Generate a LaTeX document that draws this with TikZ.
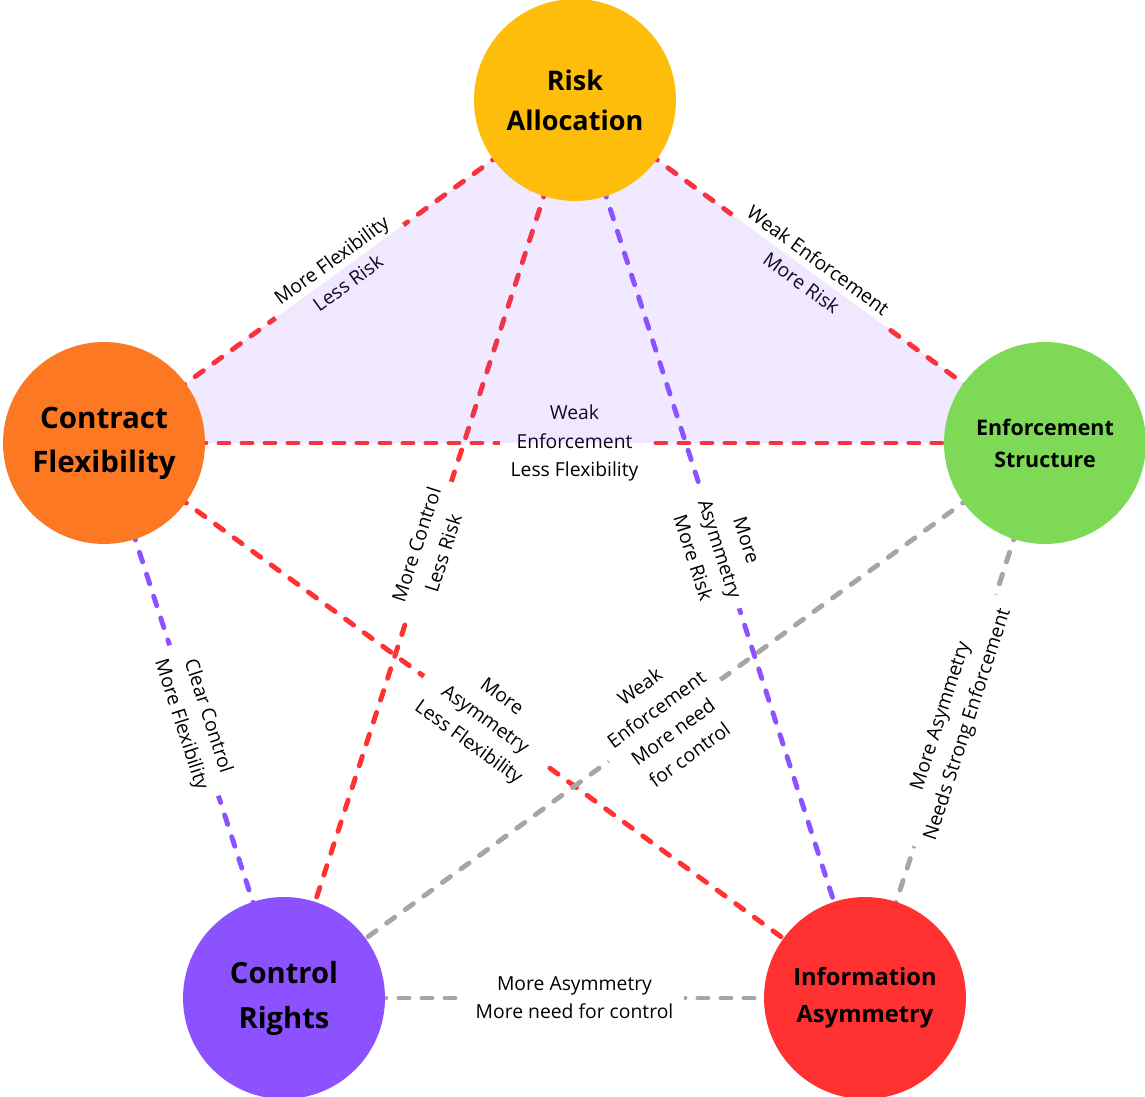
\documentclass[tikz,border=0pt]{standalone}
\usepackage{fontspec}
\setmainfont{Open Sans}
\usepackage{tikz}
\usetikzlibrary{backgrounds}
\definecolor{riskc}{RGB}{253,189,10}
\definecolor{flexc}{RGB}{253,120,35}
\definecolor{enfc}{RGB}{126,217,87}
\definecolor{ctrlc}{RGB}{140,82,255}
\definecolor{infoc}{RGB}{255,49,49}
\definecolor{linkgray}{RGB}{166,166,166}

\begin{document}
\begin{tikzpicture}[x=0.02cm,y=-0.02cm,
  factor/.style={circle,minimum size=4.04cm,inner sep=0pt,align=center},
  link/.style={line width=2.8pt,dash pattern=on 0.2cm off 0.26cm,line cap=round},
  redlink/.style={link,draw=infoc},
  purplelink/.style={link,draw=ctrlc},
  graylink/.style={link,draw=linkgray},
  lbl/.style={fill=white,align=center,inner xsep=0.22cm,inner ysep=0.06cm,
              font=\fontsize{11}{16}\selectfont,sloped}
]
\useasboundingbox (0,0) rectangle (1145,1097);
\node[factor,fill=riskc,font={\bfseries\fontsize{15.4}{22.8}\selectfont}] (risk) at (575,100) {Risk\\Allocation};
\node[factor,fill=flexc,font={\bfseries\fontsize{16.8}{25}\selectfont}] (flex) at (104,443) {Contract\\Flexibility};
\node[factor,fill=enfc,font={\bfseries\fontsize{12.2}{18.2}\selectfont}] (enf) at (1045,443) {Enforcement\\Structure};
\node[factor,fill=ctrlc,font={\bfseries\fontsize{16.6}{25.6}\selectfont}] (ctrl) at (284,998) {Control\\Rights};
\node[factor,fill=infoc,font={\bfseries\fontsize{13.5}{21}\selectfont}] (info) at (865,998) {Information\\Asymmetry};
\begin{scope}[on background layer]
\draw[redlink] (risk.center) -- node[lbl]{More Flexibility\\Less Risk} (flex.center);
\draw[redlink] (risk.center) -- node[lbl]{Weak Enforcement\\More Risk} (enf.center);
\draw[redlink] (flex.center) -- node[lbl]{Weak\\Enforcement\\Less Flexibility} (enf.center);
\draw[redlink] (risk.center) -- node[lbl]{More Control\\Less Risk} (ctrl.center);
\draw[purplelink] (risk.center) -- node[lbl]{More\\Asymmetry\\More Risk} (info.center);
\draw[purplelink] (flex.center) -- node[lbl]{Clear Control\\More Flexibility} (ctrl.center);
\draw[redlink] (flex.center) -- node[lbl]{More\\Asymmetry\\Less Flexibility} (info.center);
\draw[graylink] (enf.center) -- node[lbl]{Weak\\Enforcement\\More need\\for control} (ctrl.center);
\draw[graylink] (enf.center) -- node[lbl]{More Asymmetry\\Needs Strong Enforcement} (info.center);
\draw[graylink] (ctrl.center) -- node[lbl]{More Asymmetry\\More need for control} (info.center);
\fill[ctrlc,fill opacity=0.13] (risk.center) -- (flex.center) -- (enf.center) -- cycle;
\end{scope}
\end{tikzpicture}
\end{document}
